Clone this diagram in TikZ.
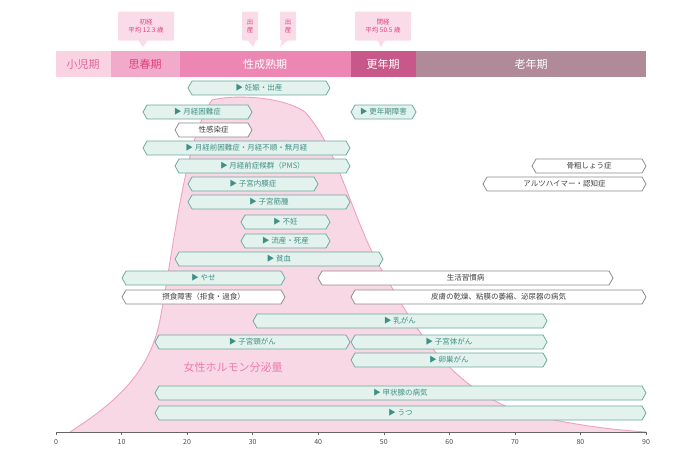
\documentclass[tikz,border=0pt]{standalone}
\usepackage{fontspec}
\setmainfont{Noto Sans CJK JP}
\usetikzlibrary{positioning}
\definecolor{tealline}{HTML}{6AAA9F}
\definecolor{tealfill}{HTML}{E3F2EC}
\definecolor{tealtext}{HTML}{3F8F86}
\definecolor{hormfill}{HTML}{F9D8E5}
\definecolor{hormline}{HTML}{F0A0C0}
\definecolor{hormtext}{HTML}{F07AAE}
\definecolor{callfill}{HTML}{FADCE8}
\definecolor{calltext}{HTML}{E0407F}
\definecolor{stagea}{HTML}{F9D3E2}
\definecolor{stageb}{HTML}{F2AACA}
\definecolor{stagec}{HTML}{EC86B3}
\definecolor{staged}{HTML}{C8588A}
\definecolor{stagee}{HTML}{B08A98}
\tikzstyle{teal} = [draw=tealline, fill=tealfill, line width=0.8pt]
\tikzstyle{plain} = [draw=black!45, fill=white, line width=0.8pt]
\tikzstyle{bandtext} = [font=\fontsize{11}{12}\selectfont]
\tikzstyle{call} = [fill=callfill, rounded corners=1pt, font=\fontsize{6.5}{8}\selectfont, text=calltext, align=center]
% bar: x1, x2, y, style, text colour, label
\newcommand{\period}[6]{%
  \path[#4] (#1,#3) -- (#1+4,#3-7) -- (#2-4,#3-7) -- (#2,#3) -- (#2-4,#3+7) -- (#1+4,#3+7) -- cycle;
  \node[text=#5, font=\fontsize{7.5}{9}\selectfont] at ({(#1+#2)/2},#3) {#6};}
\begin{document}
\begin{tikzpicture}[x=1pt,y=-1pt]
\useasboundingbox (0,0) rectangle (700,472);

% hormone curve
\path[fill=hormfill, draw=hormline, line width=0.9pt]
  (70,432) .. controls (120,400) and (150,370) .. (160,320)
  .. controls (175,240) and (185,140) .. (212,100)
  .. controls (230,95) and (280,95) .. (305,112)
  .. controls (340,150) and (355,230) .. (385,275)
  .. controls (420,340) and (460,395) .. (530,415)
  .. controls (590,428) and (620,430) .. (646,432);
\node[text=hormtext, font=\fontsize{11}{12}\selectfont] (horm) at (233,367) {女性ホルモン分泌量};

% life stages
\fill[stagea] (56,51) rectangle (111,77);
\fill[stageb] (111,51) rectangle (180,77);
\fill[stagec] (180,51) rectangle (351,77);
\fill[staged] (351,51) rectangle (416,77);
\fill[stagee] (416,51) rectangle (646,77);
\node[bandtext, text=calltext!80] (s1) at (83,64) {小児期};
\node[bandtext, text=calltext] (s2) at (145,64) {思春期};
\node[bandtext, text=white] (s3) at (265,64) {性成熟期};
\node[bandtext, text=white] (s4) at (383,64) {更年期};
\node[bandtext, text=white] (s5) at (531,64) {老年期};

% callouts
\fill[callfill] (138,40) -- (143,47) -- (148,40) -- cycle;
\node[call, minimum width=56pt, minimum height=29pt] (c1) at (146,26) {初経\\平均 12.3 歳};
\fill[callfill] (248,40) -- (253,47) -- (256,40) -- cycle;
\node[call, minimum width=16pt, minimum height=29pt, inner sep=1pt] (c2) at (250,26) {出\\産};
\fill[callfill] (282,40) -- (280,47) -- (288,40) -- cycle;
\node[call, minimum width=16pt, minimum height=29pt, inner sep=1pt] (c3) at (288,26) {出\\産};
\fill[callfill] (377,40) -- (381,47) -- (385,40) -- cycle;
\node[call, minimum width=56pt, minimum height=29pt] (c4) at (383,26) {閉経\\平均 50.5 歳};

% bars
\period{188}{330}{88}{teal}{tealtext}{▶ 妊娠・出産}
\period{143}{252}{112}{teal}{tealtext}{▶ 月経困難症}
\period{351}{416}{112}{teal}{tealtext}{▶ 更年期障害}
\period{175}{252}{130}{plain}{black!75}{性感染症}
\period{143}{350}{148}{teal}{tealtext}{▶ 月経前困難症・月経不順・無月経}
\period{175}{350}{166}{teal}{tealtext}{▶ 月経前症候群（PMS）}
\period{532}{646}{166}{plain}{black!75}{骨粗しょう症}
\period{188}{318}{184}{teal}{tealtext}{▶ 子宮内膜症}
\period{483}{646}{184}{plain}{black!75}{アルツハイマー・認知症}
\period{188}{350}{202}{teal}{tealtext}{▶ 子宮筋腫}
\period{241}{330}{222}{teal}{tealtext}{▶ 不妊}
\period{241}{330}{241}{teal}{tealtext}{▶ 流産・死産}
\period{175}{383}{259}{teal}{tealtext}{▶ 貧血}
\period{122}{285}{278}{teal}{tealtext}{▶ やせ}
\period{318}{613}{278}{plain}{black!75}{生活習慣病}
\period{122}{285}{297}{plain}{black!75}{摂食障害（拒食・過食）}
\period{351}{646}{297}{plain}{black!75}{皮膚の乾燥、粘膜の萎縮、泌尿器の病気}
\period{253}{547}{321}{teal}{tealtext}{▶ 乳がん}
\period{155}{350}{342}{teal}{tealtext}{▶ 子宮頸がん}
\period{351}{547}{342}{teal}{tealtext}{▶ 子宮体がん}
\period{351}{547}{360}{teal}{tealtext}{▶ 卵巣がん}
\period{155}{646}{393}{teal}{tealtext}{▶ 甲状腺の病気}
\period{155}{646}{413}{teal}{tealtext}{▶ うつ}

% age axis
\draw[black!60, line width=0.8pt] (56,432) -- (646,432);
\foreach \a in {0,10,...,90} {
  \draw[black!60] ({56+6.556*\a},432) -- ({56+6.556*\a},435);
  \node[text=black!70, font=\fontsize{7}{8}\selectfont] at ({56+6.556*\a},442) {\a};
}
\end{tikzpicture}
\end{document}
